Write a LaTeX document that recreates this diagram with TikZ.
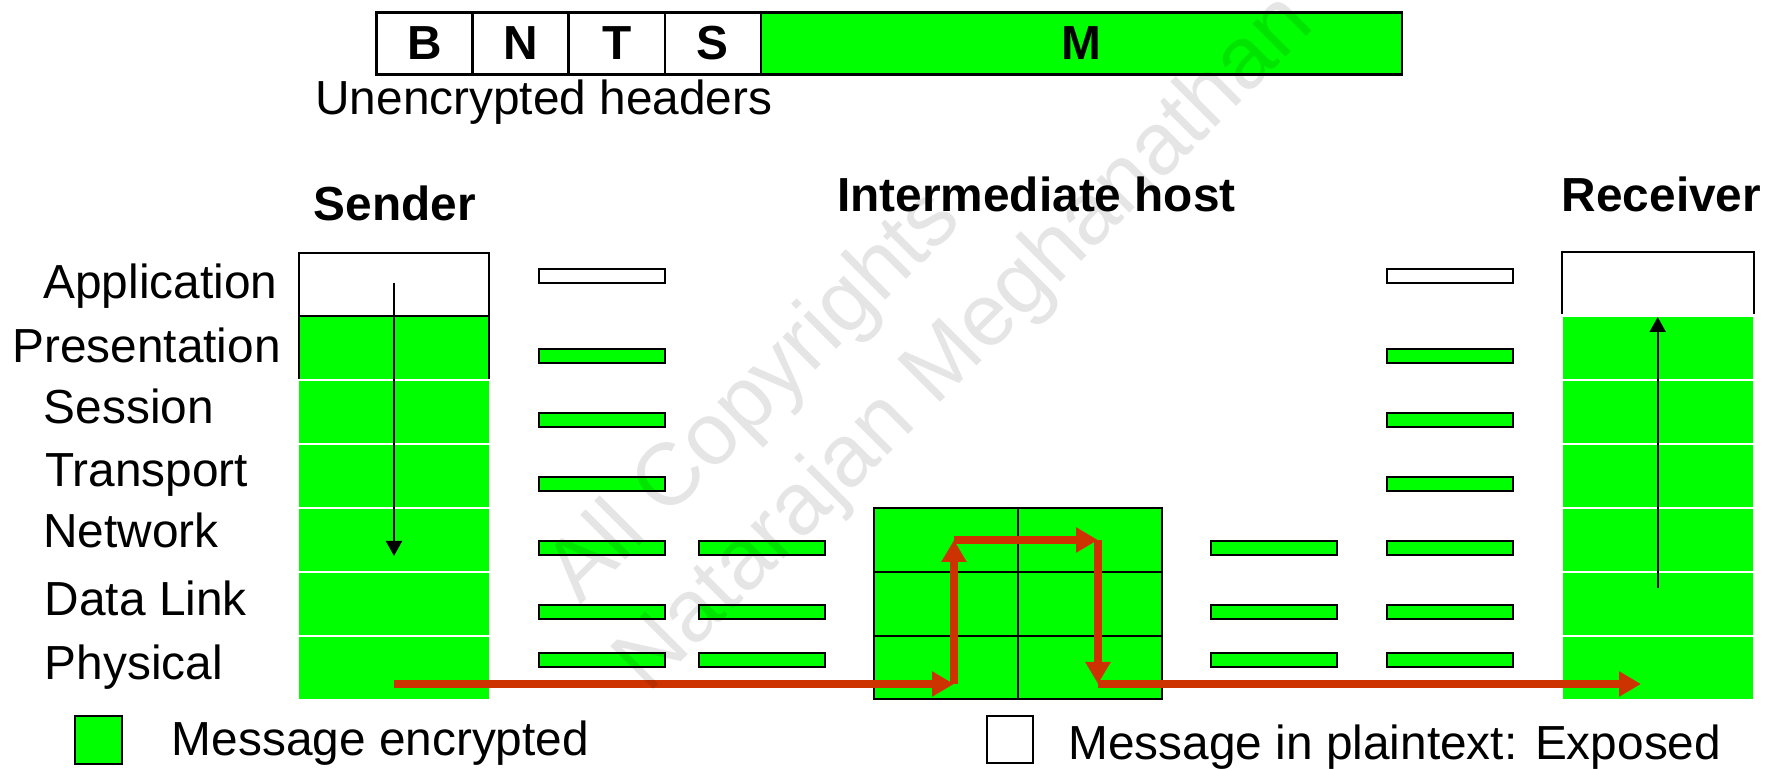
\documentclass[tikz,border=0pt]{standalone}
\usepackage{fontspec}
\setmainfont{Liberation Sans}
\usetikzlibrary{arrows.meta}
\definecolor{encgreen}{RGB}{0,255,0}
\definecolor{pathred}{RGB}{204,51,0}

\begin{document}
\begin{tikzpicture}[x=0.5pt,y=-0.5pt,
  lbl/.style={inner sep=0pt, anchor=base west, font=\fontsize{23.9}{28}\selectfont},
  hd/.style={inner sep=0pt, anchor=base, font=\fontsize{23.9}{28}\selectfont\bfseries},
  hdrcell/.style={draw, line width=1.25pt, inner sep=0pt, minimum height=31pt,
                  font=\fontsize{23.9}{28}\selectfont\bfseries},
  bar/.style={draw, line width=1pt, fill=encgreen, inner sep=0pt,
              minimum width=63.25pt, minimum height=7.25pt},
  wbar/.style={bar, fill=white},
  cell/.style={fill=encgreen, inner sep=0pt, minimum width=95pt, minimum height=31pt},
  hostcell/.style={draw, line width=1pt, fill=encgreen, inner sep=0pt,
                   minimum width=72pt, minimum height=32pt},
  keybox/.style={draw, line width=1pt, inner sep=0pt, minimum size=23.5pt},
  flow/.style={pathred, line width=3.75pt, -{Triangle[length=11pt,width=12pt]}},
  updown/.style={black, line width=1pt, -{Triangle[length=7.5pt,width=8pt]}},
  wm/.style={inner sep=0pt, anchor=base west, rotate=45, text=black, text opacity=0.1,
             font=\fontsize{44}{50}\selectfont}]
\useasboundingbox (0,0) rectangle (1773,769);

% ---- packet header layout ----
\node[hdrcell, fill=white, minimum width=48.05pt] (hB) at (424.55,43.5) {B};
\node[hdrcell, fill=white, minimum width=48.05pt] (hN) at (520.65,43.5) {N};
\node[hdrcell, fill=white, minimum width=48.05pt] (hT) at (616.75,43.5) {T};
\node[hdrcell, fill=white, minimum width=48.1pt]  (hS) at (712.9,43.5) {S};
\node[hdrcell, fill=encgreen, minimum width=320.5pt] (hM) at (1081.5,43.5) {M};
\node[lbl] (hdrtxt) at (315,115) {Unencrypted headers};

% ---- column titles ----
\node[hd] (tsend) at (395,221) {Sender};
\node[hd] (thost) at (1036.5,211.7) {Intermediate host};
\node[hd] (trecv) at (1661.5,211.7) {Receiver};

% ---- layer names ----
\node[lbl] (lapp)  at (43,299)   {Application};
\node[lbl] (lpres) at (12,363)   {Presentation};
\node[lbl] (lses)  at (43.5,424) {Session};
\node[lbl] (ltra)  at (45,487)   {Transport};
\node[lbl] (lnet)  at (43,548)   {Network};
\node[lbl] (ldl)   at (44.5,616) {Data Link};
\node[lbl] (lphy)  at (44.5,680) {Physical};

% ---- sender stack ----
\node[cell, minimum height=31.5pt] (spres) at (394,347.5) {};
\node[cell] (sses) at (394,412) {};
\node[cell] (stra) at (394,476) {};
\node[cell] (snet) at (394,540) {};
\node[cell] (sdl)  at (394,604) {};
\node[cell] (sphy) at (394,668) {};
\draw[line width=1pt] (298.7,379) -- (298.7,252.7) -- (489,252.7) -- (489,379);
\draw[line width=1pt] (298.7,316) -- (489,316);

% ---- receiver stack ----
\node[cell] (rpres) at (1658,348) {};
\node[cell] (rses) at (1658,412) {};
\node[cell] (rtra) at (1658,476) {};
\node[cell] (rnet) at (1658,540) {};
\node[cell] (rdl)  at (1658,604) {};
\node[cell] (rphy) at (1658,668) {};
\draw[line width=1pt] (1562,314.3) -- (1562,252.3) -- (1754,252.3) -- (1754,314.3);

% ---- per-layer headers on the wire ----
\foreach \cx/\c in {601.75/a, 1450/d} {
  \node[wbar] (b\c1) at (\cx,276) {};
  \node[bar]  (b\c2) at (\cx,356) {};
  \node[bar]  (b\c3) at (\cx,420) {};
  \node[bar]  (b\c4) at (\cx,484) {};
}
\foreach \cx/\c in {601.75/a, 762/b, 1274/c, 1450/d} {
  \node[bar] (b\c5) at (\cx,548) {};
  \node[bar] (b\c6) at (\cx,612) {};
  \node[bar] (b\c7) at (\cx,660) {};
}

% ---- intermediate host (network, data link, physical) ----
\node[hostcell] (h11) at (946,540) {};
\node[hostcell] (h12) at (1090,540) {};
\node[hostcell] (h21) at (946,604) {};
\node[hostcell] (h22) at (1090,604) {};
\node[hostcell, minimum height=31.5pt] (h31) at (946,667.5) {};
\node[hostcell, minimum height=31.5pt] (h32) at (1090,667.5) {};

% ---- down and up the stacks ----
\coordinate (sa0) at (394,283);
\coordinate (sa1) at (394,556);
\draw[updown] (sa0) -- (sa1);
\coordinate (ra0) at (1657.7,588.3);
\coordinate (ra1) at (1657.7,317);
\draw[updown] (ra0) -- (ra1);

% ---- message path ----
\coordinate (r0) at (394,684);
\coordinate (r1) at (954,684);
\coordinate (r2) at (954,540);
\coordinate (r3) at (1098,540);
\coordinate (r4) at (1098,684);
\coordinate (r5) at (1641,684);
\draw[flow] (r0) -- (r1);
\draw[flow] (r1) -- (r2);
\draw[flow] (r2) -- (r3);
\draw[flow] (r3) -- (r4);
\draw[flow] (r4) -- (r5);

% ---- key ----
\node[keybox, fill=encgreen] (kenc) at (98,740) {};
\node[lbl] (kenctxt) at (171.5,755.7) {Message encrypted};
\node[keybox, fill=white, minimum size=23pt] (kpln) at (1010,739.5) {};
\node[lbl] (kplntxt) at (1068,760) {Message in plaintext: Exposed};

% ---- watermark ----
\node[wm] (wm1) at (580,606) {All Copyrights};
\node[wm] (wm2) at (648,695) {Natarajan Meghanathan};
\end{tikzpicture}
\end{document}
